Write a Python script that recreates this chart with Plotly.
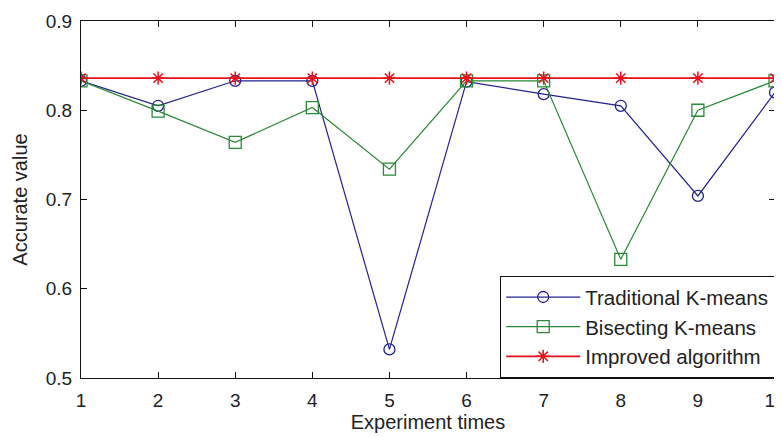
import plotly.graph_objects as go

x = [1, 2, 3, 4, 5, 6, 7, 8, 9, 10]
traditional = [0.833, 0.805, 0.833, 0.833, 0.532, 0.832, 0.818, 0.805, 0.704, 0.820]
bisecting = [0.833, 0.799, 0.764, 0.803, 0.734, 0.833, 0.833, 0.633, 0.800, 0.833]
improved = [0.836, 0.836, 0.836, 0.836, 0.836, 0.836, 0.836, 0.836, 0.836, 0.836]
y_ticks = [0.5, 0.6, 0.7, 0.8, 0.9]

BLUE = "#23238f"
GREEN = "#2a8a35"
RED = "#e8101a"
FONT = "Liberation Sans, Arial"

fig = go.Figure()
fig.add_trace(go.Scatter(x=x, y=traditional, mode="lines+markers", name="Traditional K-means",
                         legendgroup="a",
                         line=dict(color=BLUE, width=1.2),
                         marker=dict(symbol="circle-open", size=11, color=BLUE, line=dict(width=1.3))))
fig.add_trace(go.Scatter(x=x, y=bisecting, mode="lines+markers", name="Bisecting K-means",
                         legendgroup="b",
                         line=dict(color=GREEN, width=1.2),
                         marker=dict(symbol="square-open", size=12, color=GREEN, line=dict(width=1.3))))
fig.add_trace(go.Scatter(x=x, y=improved, mode="lines+markers", name="Improved algorithm",
                         legendgroup="c",
                         line=dict(color=RED, width=1.6),
                         marker=dict(symbol="asterisk-open", size=11, color=RED, line=dict(width=1.5, color=RED))))

axis_common = dict(showline=True, linecolor="#111", linewidth=1.2, mirror="ticks",
                   ticks="inside", ticklen=6, tickcolor="#111", showgrid=False, zeroline=False,
                   automargin=False,
                   tickfont=dict(family=FONT, size=19, color="#222"))

# the page body has an 8px margin, so size the figure to land the axes where the reference has them
fig.update_layout(
    width=774, height=429,
    margin=dict(l=73, r=7, t=13, b=59),
    paper_bgcolor="white", plot_bgcolor="white",
    font=dict(family=FONT, size=19, color="#222"),
    xaxis=dict(range=[1, 10], tickvals=x, ticklabelstandoff=5, ticklabeloverflow="allow",
               title=dict(text="Experiment times", standoff=1, font=dict(size=20)), **axis_common),
    yaxis=dict(range=[0.5, 0.9], tickvals=y_ticks, tickformat=".1f", ticklabelstandoff=4,
               title=dict(text="Accurate value", standoff=12, font=dict(size=20)), **axis_common),
    legend=dict(x=1, y=0, xanchor="right", yanchor="bottom", bgcolor="white",
                bordercolor="#111", borderwidth=1.2, font=dict(size=20.5, color="#222"),
                itemwidth=74, tracegroupgap=0),
    showlegend=True,
)

fig.write_html("out.html")
